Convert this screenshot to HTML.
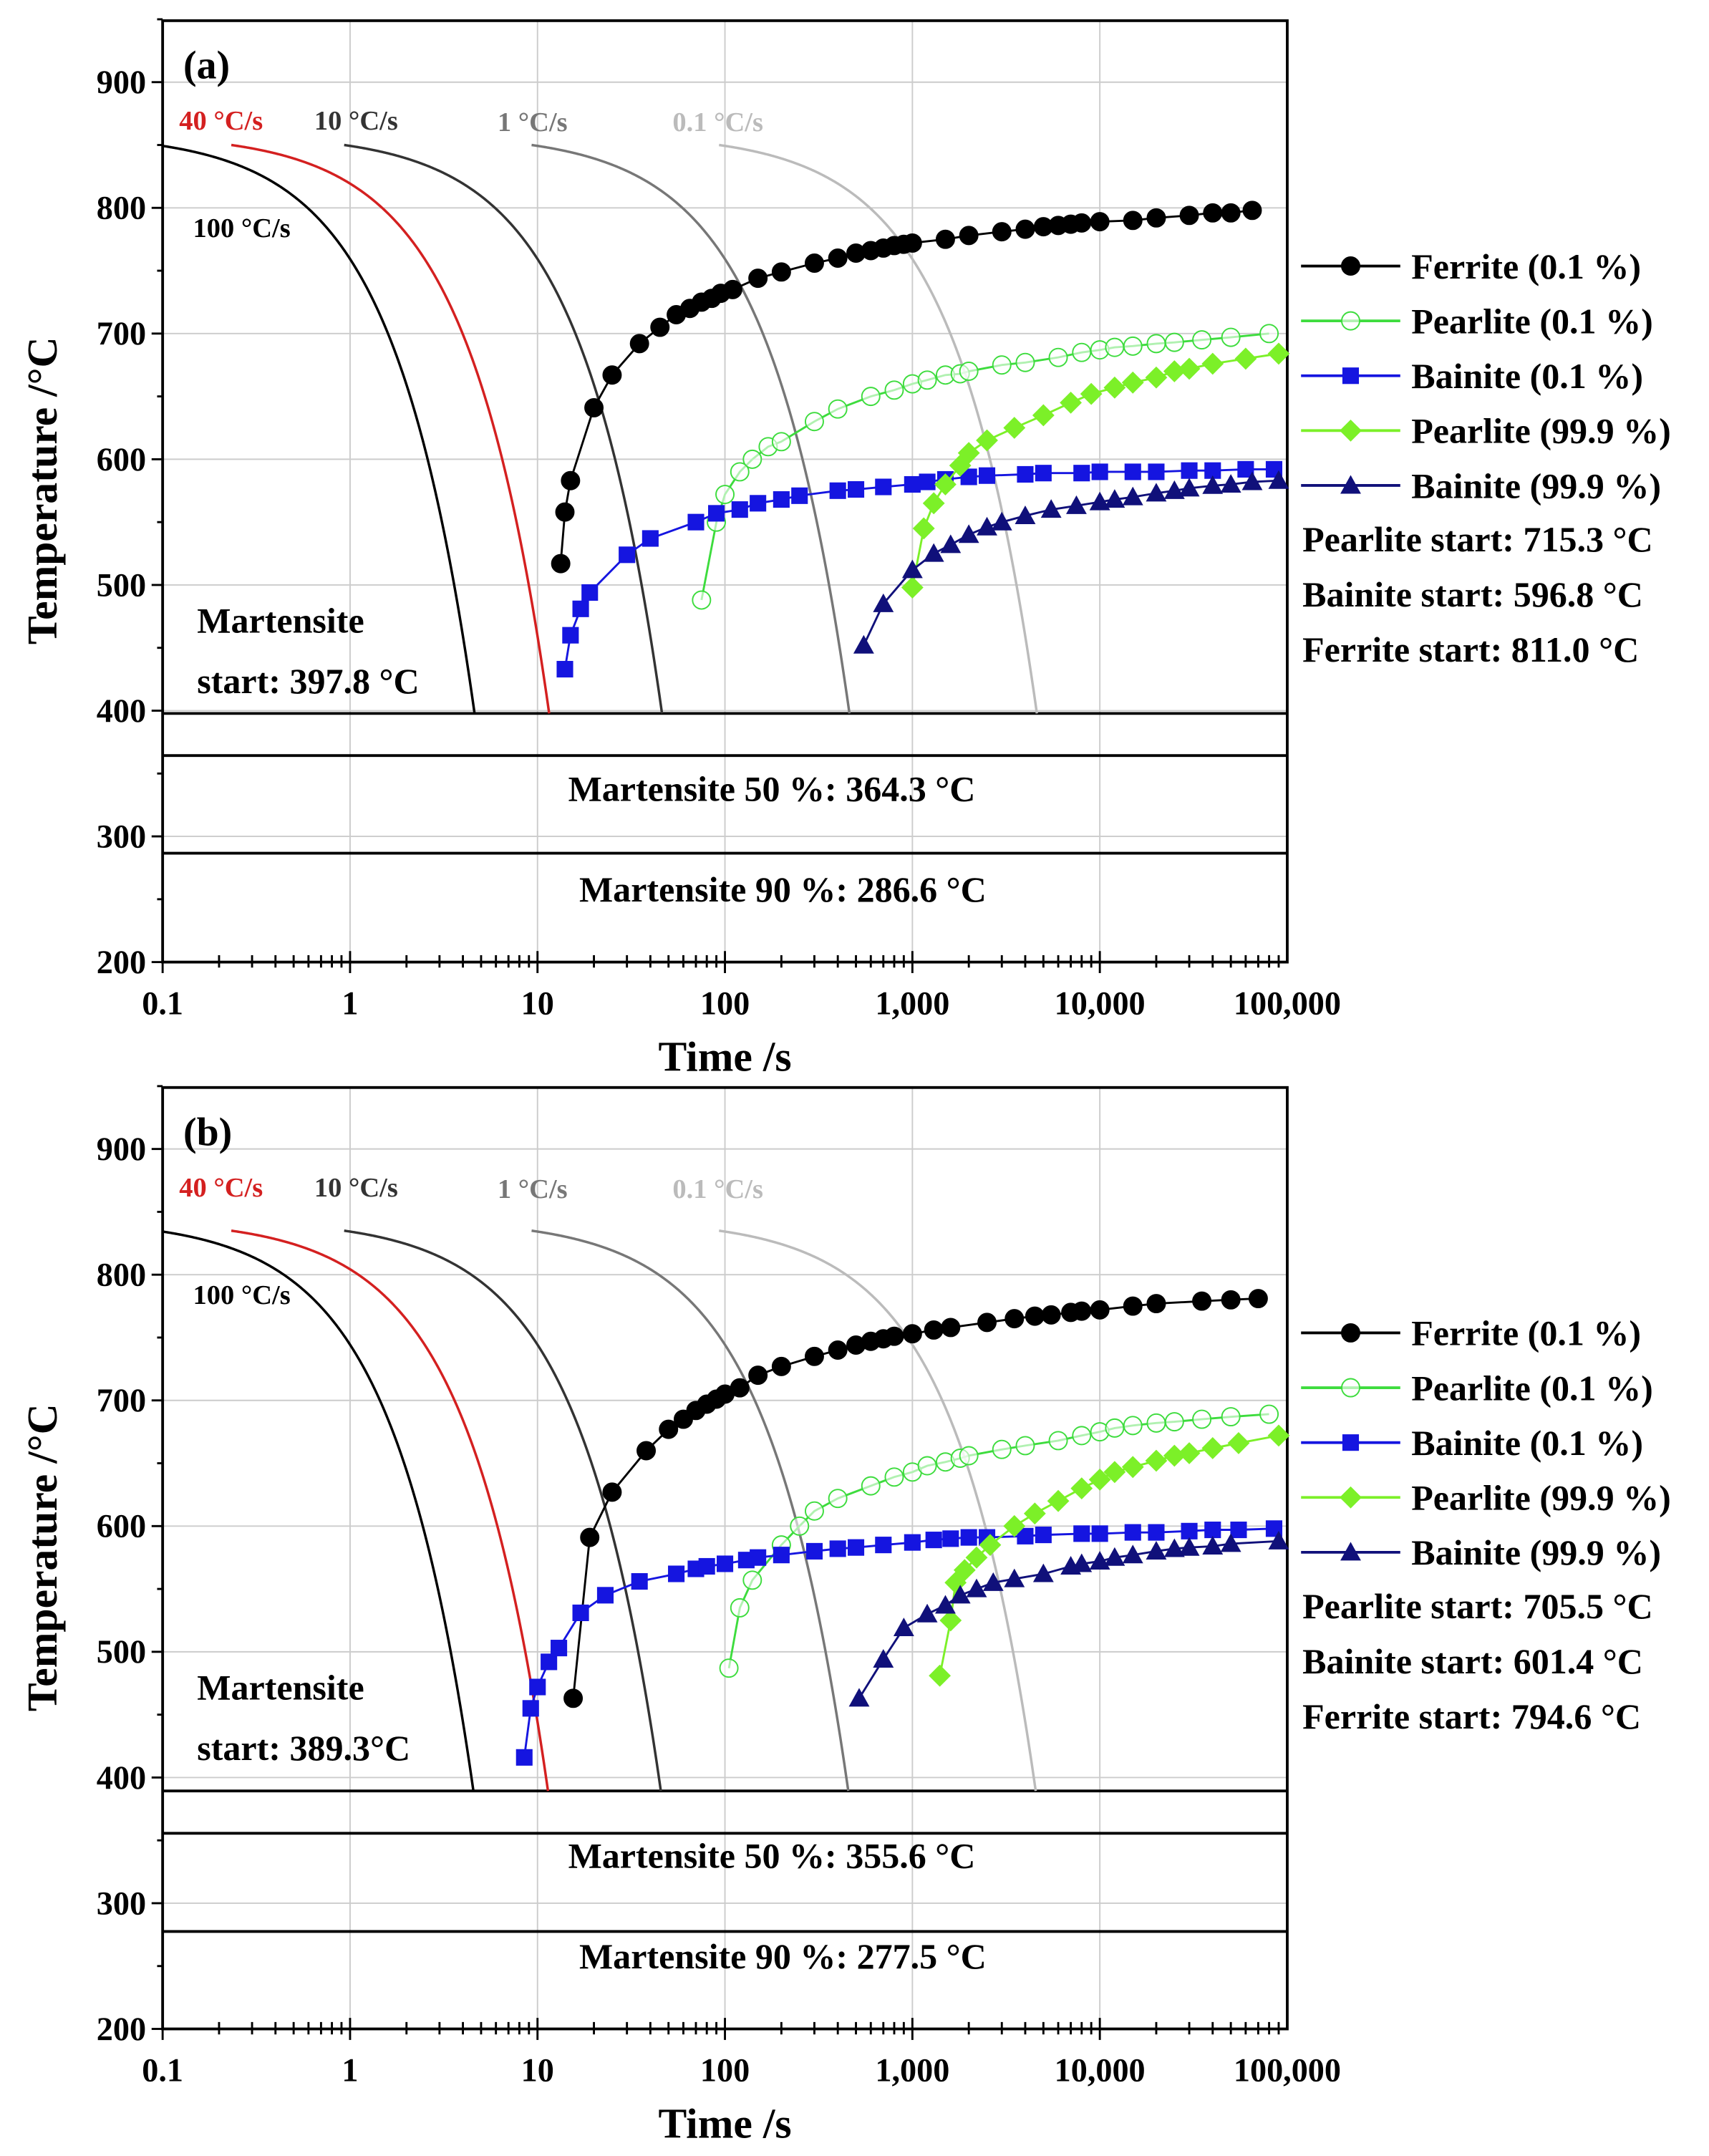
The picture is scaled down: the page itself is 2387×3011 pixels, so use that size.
<!DOCTYPE html>
<html><head><meta charset="utf-8"><style>
html,body{margin:0;padding:0;background:#fff;}
svg{display:block;}
text{font-family:"Liberation Serif",serif;font-weight:bold;}
</style></head><body>
<svg id="s" xmlns="http://www.w3.org/2000/svg" width="2387" height="3011" viewBox="0 0 1240 1564.2" preserveAspectRatio="none"></svg>
<script>
var S=document.getElementById('s');var out='';
function X(t){return 118+(Math.log10(t)+1)*136;}
function P(o,ms,ms50,ms90,Tst,data,ann,lab){
 function Y(T){return o+698-(T-200)*0.912;}
 for(var d=0;d<=5;d++){var x=118+d*136;out+='<line x1="'+x+'" y1="'+(o+15)+'" x2="'+x+'" y2="'+(o+698)+'" stroke="#ccc" stroke-width="1"/>';}
 for(var T=300;T<=900;T+=100){out+='<line x1="118" y1="'+Y(T)+'" x2="934" y2="'+Y(T)+'" stroke="#ccc" stroke-width="1"/>';}
 out+='<rect x="118" y="'+(o+15)+'" width="816" height="683" fill="none" stroke="#000" stroke-width="2"/>';
 for(var T=200;T<=950;T+=50){var big=T%100==0;out+='<line x1="118" y1="'+Y(T)+'" x2="'+(big?110:114)+'" y2="'+Y(T)+'" stroke="#000" stroke-width="1.5"/>';
  if(big)out+='<text x="106" y="'+(Y(T)+8)+'" font-size="24" text-anchor="end">'+T+'</text>';}
 var xl=['0.1','1','10','100','1,000','10,000','100,000'];
 for(var d=-1;d<5;d++){for(var m=1;m<10;m++){var x=X(m*Math.pow(10,d));out+='<line x1="'+x+'" y1="'+(o+698)+'" x2="'+x+'" y2="'+(o+698+(m==1?-8:-5))+'" stroke="#000" stroke-width="1.5"/>';out+='<line x1="'+x+'" y1="'+(o+698)+'" x2="'+x+'" y2="'+(o+698+(m==1?8:4))+'" stroke="#000" stroke-width="1.5"/>';}}
 for(var d=0;d<=6;d++){out+='<text x="'+(118+d*136)+'" y="'+(o+736)+'" font-size="24" text-anchor="middle">'+xl[d]+'</text>';}
 out+='<text x="526" y="'+(o+777)+'" font-size="31" text-anchor="middle">Time /s</text>';
 out+='<text transform="translate(41,'+(o+356)+') rotate(-90)" font-size="31" text-anchor="middle">Temperature /°C</text>';
 out+='<text x="133" y="'+(o+57)+'" font-size="29">'+lab+'</text>';
 [ms,ms50,ms90].forEach(function(v){out+='<line x1="118" y1="'+Y(v)+'" x2="934" y2="'+Y(v)+'" stroke="#000" stroke-width="2"/>';});
 out+='<text x="143" y="'+(o+459)+'" font-size="26">Martensite</text>';
 out+='<text x="143" y="'+(o+503)+'" font-size="26">start: '+ann[3]+'</text>';
 out+='<text x="560" y="'+(o+581)+'" font-size="26" text-anchor="middle">Martensite 50 %: '+ann[4]+'</text>';
 out+='<text x="568" y="'+(o+654)+'" font-size="26" text-anchor="middle">Martensite 90 %: '+ann[5]+'</text>';
 var rates=[[100,'#000'],[40,'#d42020'],[10,'#333'],[1,'#777'],[0.1,'#bbb']];
 rates.forEach(function(r){var off=9.3/r[0];var t0=Math.max(0.1,off);var t1=off+(Tst-ms)/r[0];var pts=[];
  for(var i=0;i<=240;i++){var t=t0*Math.pow(t1/t0,i/240);pts.push(X(t).toFixed(2)+','+Y(Tst-r[0]*(t-off)).toFixed(2));}
  out+='<polyline points="'+pts.join(' ')+'" fill="none" stroke="'+r[1]+'" stroke-width="1.8"/>';});
 out+='<text x="130" y="'+(o+94)+'" font-size="20" fill="#d42020">40 °C/s</text>';
 out+='<text x="228" y="'+(o+94)+'" font-size="20" fill="#333">10 °C/s</text>';
 out+='<text x="361" y="'+(o+95)+'" font-size="20" fill="#777">1 °C/s</text>';
 out+='<text x="488" y="'+(o+95)+'" font-size="20" fill="#bbb">0.1 °C/s</text>';
 out+='<text x="140" y="'+(o+172)+'" font-size="20">100 °C/s</text>';
 var st=[['#000','circ',1],['#3ddc3d','circ',0],['#1515e0','sq',1],['#7cf028','dia',1],['#10107a','tri',1]];
 function mk(k,x,y){x=+x;y=+y;var c=st[k][0];var s=st[k][1];
  if(s=='circ')return '<circle cx="'+x+'" cy="'+y+'" r="6.5" fill="'+(st[k][2]?c:'#fff')+'" fill-opacity="'+(st[k][2]?1:0.6)+'" stroke="'+c+'" stroke-width="1"/>';
  if(s=='sq')return '<rect x="'+(x-6)+'" y="'+(y-6)+'" width="12" height="12" fill="'+c+'"/>';
  if(s=='dia')return '<polygon points="'+x+','+(y-8)+' '+(x+8)+','+y+' '+x+','+(y+8)+' '+(x-8)+','+y+'" fill="'+c+'"/>';
  return '<polygon points="'+x+','+(y-7.5)+' '+(x+7.5)+','+(y+6)+' '+(x-7.5)+','+(y+6)+'" fill="'+c+'"/>';}
 data.forEach(function(ser,k){var pts=[];for(var i=0;i<ser.length;i+=2)pts.push([X(ser[i]),Y(ser[i+1])]);
  out+='<polyline points="'+pts.map(function(p){return p[0].toFixed(1)+','+p[1].toFixed(1)}).join(' ')+'" fill="none" stroke="'+st[k][0]+'" stroke-width="1.5"/>';
  pts.forEach(function(p){out+=mk(k,p[0],p[1]);});});
 var names=['Ferrite (0.1 %)','Pearlite (0.1 %)','Bainite (0.1 %)','Pearlite (99.9 %)','Bainite (99.9 %)'];
 for(var k=0;k<5;k++){var y=o+193+k*39.8;out+='<line x1="944" y1="'+y+'" x2="1016" y2="'+y+'" stroke="'+st[k][0]+'" stroke-width="2"/>'+mk(k,980,y);
  out+='<text x="1024" y="'+(y+9)+'" font-size="26">'+names[k]+'</text>';}
 out+='<text x="945" y="'+(o+400)+'" font-size="26">Pearlite start: '+ann[0]+'</text>';
 out+='<text x="945" y="'+(o+440)+'" font-size="26">Bainite start: '+ann[1]+'</text>';
 out+='<text x="945" y="'+(o+480)+'" font-size="26">Ferrite start: '+ann[2]+'</text>';
}
var A=[
[13.3,517,14,558,15,583,20,641,25,667,35,692,45,705,55,715,65,720,75,725,85,728,95,732,110,735,150,744,200,749,300,756,400,760,500,764,600,766,700,768,800,770,900,771,1000,772,1500,775,2000,778,3000,781,4000,783,5000,785,6000,786,7000,787,8000,788,10000,789,15000,790,20000,792,30000,794,40000,796,50000,796,65000,798],
[75,488,90,550,100,572,120,590,140,600,170,610,200,614,300,630,400,640,600,650,800,655,1000,660,1200,663,1500,667,1800,668,2000,670,3000,675,4000,677,6000,681,8000,685,10000,687,12000,689,15000,690,20000,692,25000,693,35000,695,50000,697,80000,700],
[14,433,15,460,17,481,19,494,30,524,40,537,70,550,90,557,120,560,150,565,200,568,250,571,400,575,500,576,700,578,1000,580,1200,582,1500,584,2000,586,2500,587,4000,588,5000,589,8000,589,10000,590,15000,590,20000,590,30000,591,40000,591,60000,592,85000,592],
[1000,498,1150,545,1300,565,1500,580,1800,595,2000,605,2500,615,3500,625,5000,635,7000,645,9000,652,12000,657,15000,661,20000,665,25000,670,30000,672,40000,676,60000,680,90000,684],
[550,452,700,485,1000,512,1300,525,1600,532,2000,540,2500,546,3000,550,4000,555,5500,560,7500,563,10000,566,12000,568,15000,570,20000,573,25000,575,30000,577,40000,579,50000,580,65000,582,90000,583]];
var B=[
[15.5,463,19,591,25,627,38,660,50,677,60,685,70,692,80,697,90,701,100,705,120,710,150,720,200,727,300,735,400,740,500,744,600,747,700,749,800,751,1000,753,1300,756,1600,758,2500,762,3500,765,4500,767,5500,768,7000,770,8000,771,10000,772,15000,775,20000,777,35000,779,50000,780,70000,781],
[105,487,120,535,140,557,200,585,250,600,300,612,400,622,600,632,800,639,1000,643,1200,648,1500,651,1800,654,2000,656,3000,661,4000,664,6000,668,8000,672,10000,675,12000,678,15000,680,20000,682,25000,683,35000,685,50000,687,80000,689],
[8.5,416,9.2,455,10,472,11.5,492,13,503,17,531,23,545,35,556,55,562,70,566,80,568,100,570,130,573,150,575,200,577,300,580,400,582,500,583,700,585,1000,587,1300,589,1600,590,2000,591,2500,591,4000,592,5000,593,8000,594,10000,594,15000,595,20000,595,30000,596,40000,597,55000,597,85000,598],
[1400,481,1600,525,1700,555,1900,565,2200,575,2600,585,3500,600,4500,610,6000,620,8000,630,10000,637,12000,643,15000,647,20000,652,25000,656,30000,658,40000,662,55000,666,90000,672],
[520,463,700,494,900,519,1200,530,1500,537,1800,545,2200,550,2700,555,3500,558,5000,562,7000,568,8000,570,10000,572,12000,575,15000,577,20000,580,25000,582,30000,583,40000,584,50000,586,90000,588]];
P(0,397.8,364.3,286.6,850,A,['715.3 °C','596.8 °C','811.0 °C','397.8 °C','364.3 °C','286.6 °C'],'(a)');
P(774,389.3,355.6,277.5,835,B,['705.5 °C','601.4 °C','794.6 °C','389.3°C','355.6 °C','277.5 °C'],'(b)');
S.innerHTML=out;
</script>
</body></html>
